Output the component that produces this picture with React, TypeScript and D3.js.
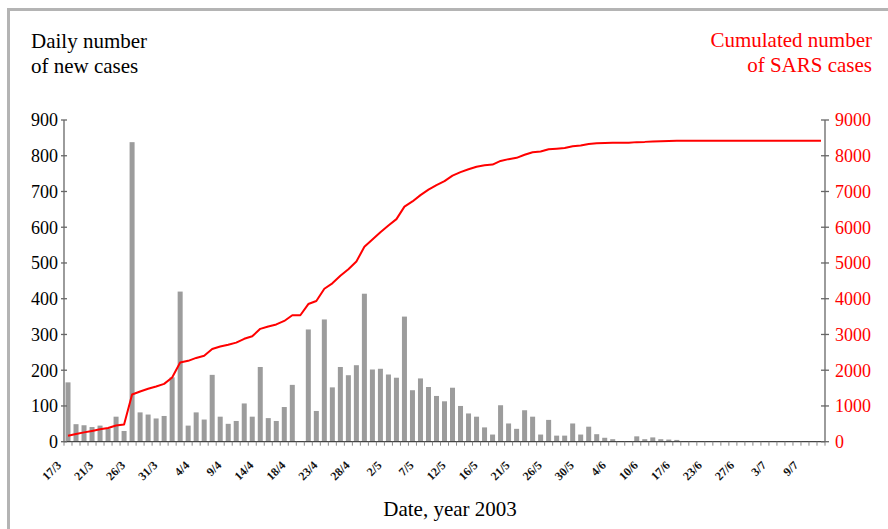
import React from "react";
import * as d3 from "d3";

// Daily number of new SARS cases per reported day (category)
const dailyCases: number[] = [
  166, 49, 46, 41, 45, 37, 70, 30, 838, 82,
  76, 65, 72, 180, 420, 45, 82, 62, 187, 70,
  50, 58, 107, 70, 209, 66, 58, 97, 159, 0,
  314, 86, 342, 152, 209, 186, 214, 414, 202, 204,
  188, 179, 350, 144, 177, 153, 128, 113, 151, 100,
  79, 70, 40, 20, 102, 51, 36, 88, 70, 20,
  61, 17, 17, 51, 20, 42, 21, 11, 7, 0,
  0, 15, 7, 12, 7, 6, 5, 0, 0, 0,
  0, 0, 1, 0, 0, 0, 0, 0, 0, 0,
  0, 0, 0, 0, 0,
];

// Cumulated number of SARS cases (red line)
const cumulativeCases: number[] = [
  166, 215, 261, 302, 347, 384, 454, 484, 1322, 1404,
  1480, 1545, 1617, 1797, 2217, 2262, 2344, 2406, 2593, 2663,
  2713, 2771, 2878, 2948, 3157, 3223, 3281, 3378, 3537, 3537,
  3851, 3937, 4279, 4431, 4640, 4826, 5040, 5454, 5656, 5860,
  6048, 6227, 6577, 6721, 6898, 7051, 7179, 7292, 7443, 7543,
  7622, 7692, 7732, 7752, 7854, 7905, 7941, 8029, 8099, 8119,
  8180, 8197, 8214, 8265, 8285, 8327, 8348, 8359, 8366, 8366,
  8366, 8381, 8388, 8400, 8407, 8413, 8418, 8420, 8420, 8420,
  8420, 8420, 8422, 8422, 8422, 8422, 8422, 8422, 8422, 8422,
  8422, 8422, 8422, 8422, 8422,
];

// Date labels, one every 4th category
const dateLabels: string[] = [
  "17/3", "21/3", "26/3", "31/3", "4/4", "9/4", "14/4", "18/4",
  "23/4", "28/4", "2/5", "7/5", "12/5", "16/5", "21/5", "26/5",
  "30/5", "4/6", "10/6", "17/6", "23/6", "27/6", "3/7", "9/7",
];
const labelEvery = 4;

const leftTicks: number[] = [0, 100, 200, 300, 400, 500, 600, 700, 800, 900];
const rightTicks: number[] = [0, 1000, 2000, 3000, 4000, 5000, 6000, 7000, 8000, 9000];

const FONT = '"Liberation Serif", "DejaVu Serif", serif';

export default function App() {
  const W = 888;
  const H = 529;
  const left = 64;
  const right = 825;
  const top = 120;
  const bottom = 441.7;

  const categories = dailyCases.map((_, i) => i);
  const n = categories.length;

  const xBand = d3
    .scaleBand<number>()
    .domain(categories)
    .range([left, right])
    .paddingInner(0.375)
    .paddingOuter(0.1875);
  const xEdge = d3.scaleLinear().domain([0, n]).range([left, right]);
  const yL = d3.scaleLinear().domain([0, 900]).range([bottom, top]);
  const yR = d3.scaleLinear().domain([0, 9000]).range([bottom, top]);

  const center = (i: number) => (xBand(i) as number) + xBand.bandwidth() / 2;

  const line = d3
    .line<number>()
    .x((_, i) => center(i))
    .y((d) => yR(d));

  const edges = d3.range(n + 1);
  const ts = { fontFamily: FONT };

  return (
    <svg
      width={W}
      height={H}
      style={{ position: "absolute", left: 0, top: 0, background: "#fff", fontFamily: FONT }}
    >
      <rect x={0} y={0} width={W} height={H} fill="#fff" />
      {/* frame */}
      <rect x={8.5} y={9.5} width={W + 20} height={H + 20} fill="none" stroke="#b4b4b4" strokeWidth={3} />

      {/* titles */}
      <text style={ts} x={31} y={48} fontSize={21} fill="#000">Daily number</text>
      <text style={ts} x={31} y={73} fontSize={21} fill="#000">of new cases</text>
      <text style={ts} x={872} y={47} fontSize={21} fill="#ff0000" textAnchor="end">Cumulated number</text>
      <text style={ts} x={872} y={72} fontSize={21} fill="#ff0000" textAnchor="end">of SARS cases</text>

      {/* bars */}
      {dailyCases.map((v, i) =>
        v > 0 ? (
          <rect
            key={i}
            x={xBand(i) as number}
            y={yL(v)}
            width={xBand.bandwidth()}
            height={bottom - yL(v)}
            fill="#9c9c9c"
          />
        ) : null
      )}

      {/* x axis */}
      <line x1={left} x2={right} y1={bottom} y2={bottom} stroke="#444" strokeWidth={1.3} />
      {edges.map((e) => (
        <line key={e} x1={xEdge(e)} x2={xEdge(e)} y1={bottom} y2={bottom + 4} stroke="#888" strokeWidth={1} />
      ))}
      {dateLabels.map((lab, k) => {
        const i = k * labelEvery;
        const x = center(i) - 6;
        const y = 466;
        return (
          <text
            key={lab}
            style={ts}
            x={x}
            y={y}
            fontSize={12}
            fontWeight="bold"
            textAnchor="end"
            transform={`rotate(-45, ${x}, ${y})`}
            fill="#111"
          >
            {lab}
          </text>
        );
      })}
      <text style={ts} x={450} y={516} fontSize={21} textAnchor="middle" fill="#000">Date, year 2003</text>

      {/* left axis */}
      <line x1={left} x2={left} y1={top} y2={bottom} stroke="#666" strokeWidth={1.3} />
      {leftTicks.map((t) => (
        <g key={t}>
          <line x1={left - 3} x2={left + 3} y1={yL(t)} y2={yL(t)} stroke="#666" strokeWidth={1.3} />
          <text style={ts} x={58} y={yL(t)} dy="0.35em" fontSize={18} textAnchor="end" fill="#000">
            {t}
          </text>
        </g>
      ))}

      {/* right axis */}
      <line x1={right} x2={right} y1={top} y2={bottom} stroke="#666" strokeWidth={1.3} />
      {rightTicks.map((t) => (
        <g key={t}>
          <line x1={right - 4} x2={right + 4} y1={yR(t)} y2={yR(t)} stroke="#666" strokeWidth={1.3} />
          <text style={ts} x={835} y={yR(t)} dy="0.35em" fontSize={18} textAnchor="start" fill="#ff0000">
            {t}
          </text>
        </g>
      ))}

      {/* cumulative line */}
      <path d={line(cumulativeCases) || ""} fill="none" stroke="#ff0000" strokeWidth={2} strokeLinejoin="round" />
    </svg>
  );
}
